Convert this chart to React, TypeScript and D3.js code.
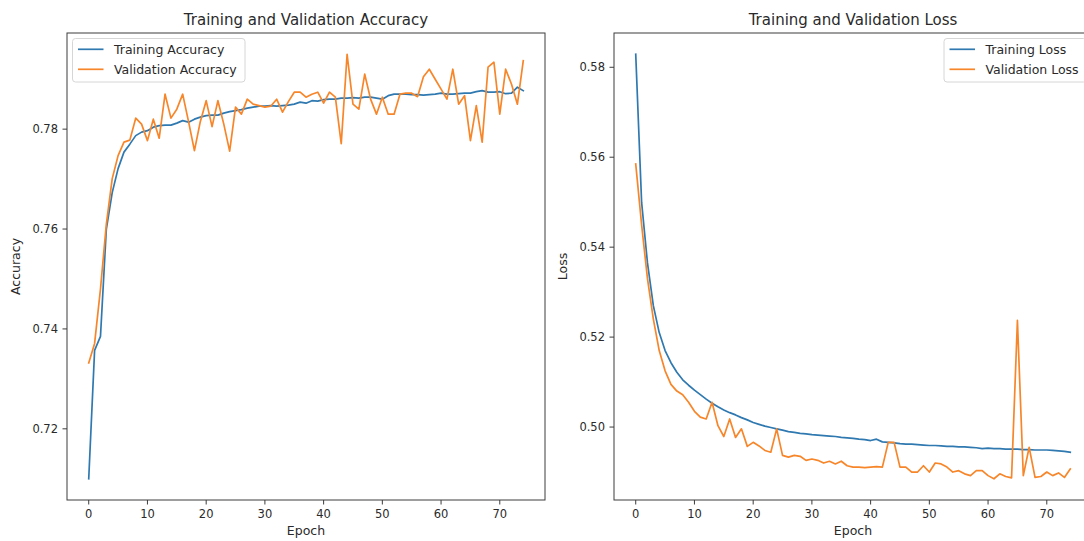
import React from 'react';
import * as d3 from 'd3';

const epochs = [
  0, 1, 2, 3, 4, 5, 6, 7, 8, 9, 10, 11, 12, 13, 14, 15, 16, 17, 18, 19,
  20, 21, 22, 23, 24, 25, 26, 27, 28, 29, 30, 31, 32, 33, 34, 35, 36, 37, 38, 39,
  40, 41, 42, 43, 44, 45, 46, 47, 48, 49, 50, 51, 52, 53, 54, 55, 56, 57, 58, 59,
  60, 61, 62, 63, 64, 65, 66, 67, 68, 69, 70, 71, 72, 73, 74,
];

const trainAcc = [
  0.7100, 0.7357, 0.7385, 0.7600, 0.7673, 0.7721, 0.7754, 0.7770, 0.7787, 0.7794,
  0.7797, 0.7804, 0.7807, 0.7808, 0.7808, 0.7812, 0.7817, 0.7814, 0.7820, 0.7824,
  0.7827, 0.7828, 0.7828, 0.7832, 0.7835, 0.7837, 0.7839, 0.7842, 0.7844, 0.7846,
  0.7846, 0.7847, 0.7846, 0.7847, 0.7848, 0.7850, 0.7854, 0.7852, 0.7857, 0.7856,
  0.7859, 0.7860, 0.7860, 0.7862, 0.7862, 0.7863, 0.7862, 0.7864, 0.7864, 0.7862,
  0.7860, 0.7867, 0.7870, 0.7870, 0.7870, 0.7869, 0.7869, 0.7868, 0.7869, 0.7870,
  0.7872, 0.7870, 0.7870, 0.7871, 0.7872, 0.7872, 0.7875, 0.7877, 0.7874, 0.7874,
  0.7875, 0.7871, 0.7872, 0.7884, 0.7877,
];

const valAcc = [
  0.7332, 0.7371, 0.7480, 0.7610, 0.7701, 0.7747, 0.7774, 0.7778, 0.7822, 0.7810,
  0.7777, 0.7820, 0.7782, 0.7870, 0.7822, 0.7840, 0.7870, 0.7815, 0.7757, 0.7815,
  0.7857, 0.7805, 0.7857, 0.7810, 0.7756, 0.7844, 0.7830, 0.7860, 0.7850, 0.7847,
  0.7844, 0.7846, 0.7860, 0.7834, 0.7855, 0.7874, 0.7874, 0.7864, 0.7870, 0.7874,
  0.7852, 0.7874, 0.7864, 0.7771, 0.7950, 0.7850, 0.7840, 0.7910, 0.7860, 0.7830,
  0.7864, 0.7830, 0.7830, 0.7870, 0.7872, 0.7872, 0.7865, 0.7905, 0.7920, 0.7900,
  0.7880, 0.7860, 0.7920, 0.7850, 0.7867, 0.7777, 0.7847, 0.7774, 0.7924, 0.7934,
  0.7830, 0.7920, 0.7890, 0.7850, 0.7937,
];

const trainLoss = [
  0.5829, 0.5500, 0.5365, 0.5270, 0.5210, 0.5170, 0.5143, 0.5122, 0.5105, 0.5093,
  0.5082, 0.5072, 0.5062, 0.5053, 0.5045, 0.5038, 0.5032, 0.5027, 0.5021, 0.5016,
  0.5010, 0.5006, 0.5002, 0.4999, 0.4996, 0.4993, 0.4990, 0.4988, 0.4986, 0.4985,
  0.4983, 0.4982, 0.4981, 0.4980, 0.4979, 0.4977, 0.4976, 0.4975, 0.4973, 0.4972,
  0.4970, 0.4973, 0.4967, 0.4966, 0.4965, 0.4963, 0.4962, 0.4962, 0.4961, 0.4960,
  0.4959, 0.4959, 0.4958, 0.4957, 0.4957, 0.4956, 0.4956, 0.4955, 0.4954, 0.4952,
  0.4953, 0.4952, 0.4952, 0.4951, 0.4951, 0.4951, 0.4950, 0.4950, 0.4949, 0.4949,
  0.4949, 0.4948, 0.4947, 0.4946, 0.4944,
];

const valLoss = [
  0.5585, 0.5450, 0.5330, 0.5240, 0.5170, 0.5125, 0.5095, 0.5080, 0.5072, 0.5055,
  0.5035, 0.5022, 0.5018, 0.5055, 0.5003, 0.4979, 0.5018, 0.4977, 0.4996, 0.4957,
  0.4966, 0.4958, 0.4948, 0.4944, 0.4996, 0.4937, 0.4933, 0.4937, 0.4935, 0.4926,
  0.4929, 0.4926, 0.4920, 0.4924, 0.4918, 0.4924, 0.4914, 0.4911, 0.4911, 0.4910,
  0.4911, 0.4912, 0.4911, 0.4966, 0.4966, 0.4911, 0.4911, 0.4900, 0.4900, 0.4914,
  0.4900, 0.4920, 0.4918, 0.4911, 0.4900, 0.4903, 0.4896, 0.4892, 0.4903, 0.4903,
  0.4892, 0.4885, 0.4896, 0.4890, 0.4887, 0.5237, 0.4892, 0.4955, 0.4888, 0.4890,
  0.4900, 0.4892, 0.4898, 0.4888, 0.4907,
];

const epochTicks = [0, 10, 20, 30, 40, 50, 60, 70];
const accTicks = [0.72, 0.74, 0.76, 0.78];
const lossTicks = [0.5, 0.52, 0.54, 0.56, 0.58];

const BLUE = '#2f79b0';
const ORANGE = '#f7862a';
const FONT = '"DejaVu Sans", sans-serif';
const TEXT = '#2a2a2a';
const AXIS = '#3c3c3c';

type Series = { label: string; values: number[]; color: string };

type PanelProps = {
  left: number;
  right: number;
  top: number;
  bottom: number;
  title: string;
  ylabel: string;
  yTicks: number[];
  series: Series[];
  legendAlign: 'left' | 'right';
  legendWidth: number;
};

function Panel(p: PanelProps) {
  const all = p.series.flatMap((s) => s.values);
  const [ymin, ymax] = d3.extent(all) as [number, number];
  const ypad = (ymax - ymin) * 0.05;
  const [xmin, xmax] = d3.extent(epochs) as [number, number];
  const xpad = (xmax - xmin) * 0.05;

  const x = d3.scaleLinear().domain([xmin - xpad, xmax + xpad]).range([p.left, p.right]);
  const y = d3.scaleLinear().domain([ymin - ypad, ymax + ypad]).range([p.bottom, p.top]);

  const line = d3
    .line<number>()
    .x((_, i) => x(epochs[i]))
    .y((d) => y(d));

  const fmt = d3.format('.2f');
  const cx = (p.left + p.right) / 2;
  const cy = (p.top + p.bottom) / 2;

  const lgTop = p.top + 5.5;
  const lgLeft = p.legendAlign === 'left' ? p.left + 5.5 : p.right - 5.5 - p.legendWidth;
  const lgH = 43.5;

  return (
    <g>
      <defs>
        <clipPath id={`clip-${p.left}`}>
          <rect x={p.left} y={p.top} width={p.right - p.left} height={p.bottom - p.top} />
        </clipPath>
      </defs>
      <g clipPath={`url(#clip-${p.left})`}>
        {p.series.map((s) => (
          <path
            key={s.label}
            d={line(s.values) || ''}
            fill="none"
            stroke={s.color}
            strokeWidth={1.7}
            strokeLinejoin="round"
            strokeLinecap="square"
          />
        ))}
      </g>
      <rect
        x={p.left}
        y={p.top}
        width={p.right - p.left}
        height={p.bottom - p.top}
        fill="none"
        stroke={AXIS}
        strokeWidth={1}
      />
      {epochTicks.map((t) => (
        <g key={`xt${t}`}>
          <line x1={x(t)} x2={x(t)} y1={p.bottom} y2={p.bottom + 4.5} stroke={AXIS} strokeWidth={1} />
          <text
            x={x(t)}
            y={p.bottom + 18}
            textAnchor="middle"
            fontFamily={FONT}
            fontSize={11.5}
            fill={TEXT}
          >
            {t}
          </text>
        </g>
      ))}
      {p.yTicks.map((t) => (
        <g key={`yt${t}`}>
          <line x1={p.left - 4.5} x2={p.left} y1={y(t)} y2={y(t)} stroke={AXIS} strokeWidth={1} />
          <text
            x={p.left - 9}
            y={y(t)}
            dy="0.36em"
            textAnchor="end"
            fontFamily={FONT}
            fontSize={11.5}
            fill={TEXT}
          >
            {fmt(t)}
          </text>
        </g>
      ))}
      <text x={cx} y={535} textAnchor="middle" fontFamily={FONT} fontSize={12.5} fill={TEXT}>
        Epoch
      </text>
      <text
        transform={`translate(${p.left - 47},${cy}) rotate(-90)`}
        textAnchor="middle"
        fontFamily={FONT}
        fontSize={12.5}
        fill={TEXT}
      >
        {p.ylabel}
      </text>
      <text x={cx} y={25} textAnchor="middle" fontFamily={FONT} fontSize={15} fill={TEXT}>
        {p.title}
      </text>
      <g>
        <rect
          x={lgLeft}
          y={lgTop}
          width={p.legendWidth}
          height={lgH}
          rx={3}
          fill="#ffffff"
          fillOpacity={0.8}
          stroke="#d6d6d6"
          strokeWidth={1}
        />
        {p.series.map((s, i) => {
          const ry = lgTop + 10.8 + i * 20;
          return (
            <g key={`lg${s.label}`}>
              <line x1={lgLeft + 5.5} x2={lgLeft + 31} y1={ry} y2={ry} stroke={s.color} strokeWidth={1.7} />
              <text
                x={lgLeft + 41.5}
                y={ry}
                dy="0.36em"
                fontFamily={FONT}
                fontSize={12.5}
                fill={TEXT}
              >
                {s.label}
              </text>
            </g>
          );
        })}
      </g>
    </g>
  );
}

export default function App() {
  return (
    <svg
      width={1084}
      height={541}
      viewBox="0 0 1084 541"
      style={{ position: 'absolute', left: 0, top: 0, background: '#ffffff' }}
    >
      <rect x={0} y={0} width={1084} height={541} fill="#ffffff" />
      <Panel
        left={67}
        right={545}
        top={33}
        bottom={500}
        title="Training and Validation Accuracy"
        ylabel="Accuracy"
        yTicks={accTicks}
        series={[
          { label: 'Training Accuracy', values: trainAcc, color: BLUE },
          { label: 'Validation Accuracy', values: valAcc, color: ORANGE },
        ]}
        legendAlign="left"
        legendWidth={172.5}
      />
      <Panel
        left={614}
        right={1092}
        top={33}
        bottom={500}
        title="Training and Validation Loss"
        ylabel="Loss"
        yTicks={lossTicks}
        series={[
          { label: 'Training Loss', values: trainLoss, color: BLUE },
          { label: 'Validation Loss', values: valLoss, color: ORANGE },
        ]}
        legendAlign="right"
        legendWidth={142.5}
      />
    </svg>
  );
}
